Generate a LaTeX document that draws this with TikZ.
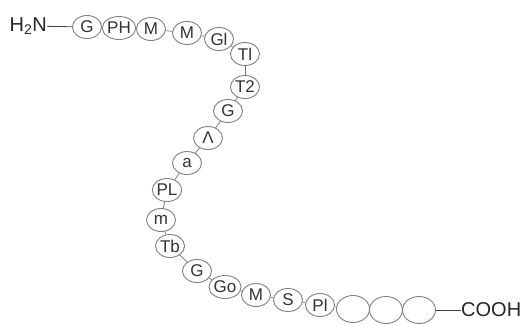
\documentclass[tikz,border=0pt]{standalone}
\usepackage{fontspec}
\setmainfont{Liberation Sans}
\usepackage{tikz}
\usetikzlibrary{positioning, shapes.geometric}

\begin{document}
\begin{tikzpicture}[
    x=1pt, y=-1pt,
    residue/.style={ellipse, draw=black!50, line width=0.9pt, inner sep=0pt, minimum width=29pt, minimum height=23pt, text=black!80, font=\fontsize{17}{17}\selectfont},
    blank/.style={residue, minimum width=33pt, minimum height=27pt},
    terminus/.style={inner sep=0pt, text=black!85, font=\fontsize{20}{20}\selectfont},
    link/.style={draw=black!55, line width=0.7pt},
    bond/.style={draw=black!75, line width=0.8pt}
]
    \useasboundingbox (0,0) rectangle (528,325);

    % amino end and first stretch
    \node [terminus, anchor=east] (nterm) at (47,26) {H\textsubscript{2}N};
    \node [residue] (r1) at (87,27) {G};
    \node [residue] (r2) at (119,28) {PH};
    \node [residue] (r3) at (151,29) {M};
    \node [residue] (r4) at (187,33) {M};
    \node [residue] (r5) at (219,39) {Gl};
    \node [residue] (r6) at (245,54) {Tl};
    \node [residue] (r7) at (245,87) {T2};
    \node [residue] (r8) at (228,111) {G};
    \node [residue] (r9) at (208,138) {Λ};
    \node [residue] (r10) at (187,163) {a};
    \node [residue] (r11) at (167,190) {PL};
    \node [residue] (r12) at (161,220) {m};
    \node [residue] (r13) at (170,246) {Tb};
    \node [residue] (r14) at (197,271) {G};
    \node [residue] (r15) at (225,287) {Go};
    \node [residue] (r16) at (256,295) {M};
    \node [residue] (r17) at (288,300) {S};
    \node [residue] (r18) at (320,305) {Pl};
    \node [blank] (r19) at (353,309) {};
    \node [blank] (r20) at (386,310) {};
    \node [blank] (r21) at (419,310) {};
    \node [terminus, anchor=west] (cterm) at (461,310) {COOH};

    \draw [bond] (nterm) -- (r1);
    \foreach \a/\b in {1/2, 2/3, 3/4, 4/5, 5/6, 6/7, 7/8, 8/9, 9/10, 10/11, 11/12, 12/13, 13/14, 14/15, 15/16, 16/17, 17/18, 18/19, 19/20, 20/21}
        \draw [link] (r\a) -- (r\b);
    \draw [bond] (r21) -- (cterm);
\end{tikzpicture}
\end{document}
